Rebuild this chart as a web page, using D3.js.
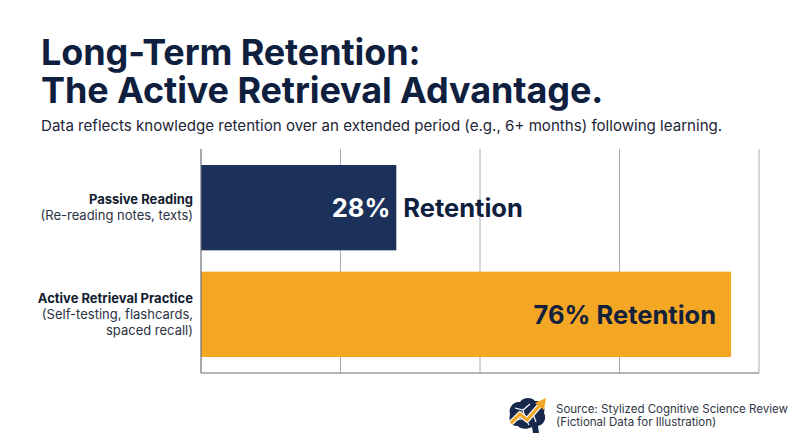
<!DOCTYPE html>
<html>
<head>
<meta charset="utf-8">
<script src="https://cdn.jsdelivr.net/npm/d3@7"></script>
<style>
  html, body { margin: 0; padding: 0; background: #fff; }
  svg { display: block; font-family: Inter, "Noto Sans", sans-serif; }
</style>
</head>
<body>
<svg id="chart" width="800" height="447"></svg>
<script>
// data
var categories = ['Passive Reading', 'Active Retrieval Practice']
var subLabels =  [['(Re-reading notes, texts)'], ['(Self-testing, flashcards,', 'spaced recall)']]
var retention =  [28, 76]
var gridTicks =  [20, 40, 60, 80]

var titleLines = ['Long-Term Retention:', 'The Active Retrieval Advantage.']
var subtitle =   'Data reflects knowledge retention over an extended period (e.g., 6+ months) following learning.'
var sourceLines = ['Source: Stylized Cognitive Science Review', '(Fictional Data for Illustration)']

var navy =      '#0f203f'
var barColors = ['#1b3159', '#f3a724']
var labelColors = ['#ffffff', '#14213d']

var svg = d3.select('#chart')
var plotL = 201, plotR = 759, plotT = 149, plotB = 373

var x = d3.scaleLinear().domain([0, 80]).range([plotL, plotR])
var y = d3.scaleBand().domain(categories).range([plotT, plotB]).paddingInner(0.2).paddingOuter(0.15)

// title + subtitle
svg.append('g').selectAll('text')
    .data(titleLines).join('text')
    .attr('x', 41).attr('y', (d, i) => 65 + i * 37.5)
    .attr('fill', navy)
    .style('font-size', '36px').style('font-weight', 700).style('letter-spacing', '-0.1px')
    .text(d => d)

svg.append('text')
    .attr('x', 41).attr('y', 131)
    .attr('fill', '#1c2536')
    .style('font-size', '15.1px')
    .text(subtitle)

// grid
svg.append('g').selectAll('line')
    .data(gridTicks).join('line')
    .attr('x1', d => x(d)).attr('x2', d => x(d))
    .attr('y1', plotT).attr('y2', plotB)
    .attr('stroke', '#a9acb2').attr('stroke-width', 1)

// bars
svg.append('g').selectAll('rect')
    .data(categories).join('rect')
    .attr('x', x(0)).attr('y', d => y(d))
    .attr('width', (d, i) => x(retention[i]) - x(0))
    .attr('height', y.bandwidth())
    .attr('fill', (d, i) => barColors[i])

// axes
svg.append('line').attr('x1', plotL).attr('x2', plotL).attr('y1', plotT).attr('y2', plotB)
    .attr('stroke', '#6b6f78').attr('stroke-width', 1.2)
svg.append('line').attr('x1', plotL).attr('x2', plotR).attr('y1', plotB).attr('y2', plotB)
    .attr('stroke', '#6b6f78').attr('stroke-width', 1.2)

// category labels
categories.forEach((c, i) => {
    var lines = [c].concat(subLabels[i])
    var cy = y(c) + y.bandwidth() / 2
    var lh = 16
    var y0 = cy - (lines.length - 1) * lh / 2 + 4.5
    svg.append('g').selectAll('text')
        .data(lines).join('text')
        .attr('x', 193).attr('y', (d, j) => y0 + j * lh)
        .attr('text-anchor', 'end')
        .attr('fill', (d, j) => j === 0 ? '#121c30' : '#2a3242')
        .style('font-size', '13px')
        .style('font-weight', (d, j) => j === 0 ? 700 : 400)
        .text(d => d)
})

// value labels
categories.forEach((c, i) => {
    var cy = y(c) + y.bandwidth() / 2 + 9.5
    var end = x(retention[i])
    var g = svg.append('g').style('font-size', '25.5px').style('font-weight', 700)
    var probe = g.append('text').text(retention[i] + '% Retention')
    var w = probe.node().getComputedTextLength()
    probe.remove()
    if (end - x(0) > w + 30) {
        g.append('text')
            .attr('x', end - 15).attr('y', cy)
            .attr('text-anchor', 'end')
            .attr('fill', labelColors[1])
            .text(retention[i] + '% Retention')
    } else {
        g.append('text')
            .attr('x', end - 6).attr('y', cy)
            .attr('text-anchor', 'end')
            .attr('fill', labelColors[0])
            .text(retention[i] + '%')
        g.append('text')
            .attr('x', end + 7).attr('y', cy)
            .attr('fill', navy)
            .text('Retention')
    }
})

// source + brain icon
var icon = svg.append('g').attr('transform', 'translate(527,416)')
icon.append('path')
    .attr('d', 'M-17,-2 C-19,-9 -13,-15 -7,-14 C-4,-19 5,-19 8,-15 C14,-16 19,-10 17,-3 C20,2 17,9 11,10 L12,17 L6,17 L5,11 C0,14 -7,13 -9,10 C-15,11 -19,5 -17,-2 Z')
    .attr('fill', '#16294d')
icon.append('path')
    .attr('d', 'M-12,-8 L-4,-6 L3,-12 M-4,-6 L-2,2 L-10,4 M-2,2 L6,-2 L12,-8 M6,-2 L9,6 M-2,2 L2,9')
    .attr('fill', 'none').attr('stroke', '#ffffff').attr('stroke-width', 1.2)
icon.append('path')
    .attr('d', 'M-16,7 L-7,-2 L0,4 L14,-12')
    .attr('fill', 'none').attr('stroke', '#ffffff').attr('stroke-width', 5.5).attr('stroke-linejoin', 'round')
icon.append('path')
    .attr('d', 'M-16,7 L-7,-2 L0,4 L14,-12')
    .attr('fill', 'none').attr('stroke', '#f3a724').attr('stroke-width', 3.2).attr('stroke-linejoin', 'round')
icon.append('path')
    .attr('d', 'M19,-18 L17,-6 L8,-13 Z')
    .attr('fill', '#f3a724')

svg.append('g').selectAll('text')
    .data(sourceLines).join('text')
    .attr('x', 556).attr('y', (d, i) => 413 + i * 12.5)
    .attr('fill', '#2f3645')
    .style('font-size', '11.5px')
    .text(d => d)
</script>
</body>
</html>
